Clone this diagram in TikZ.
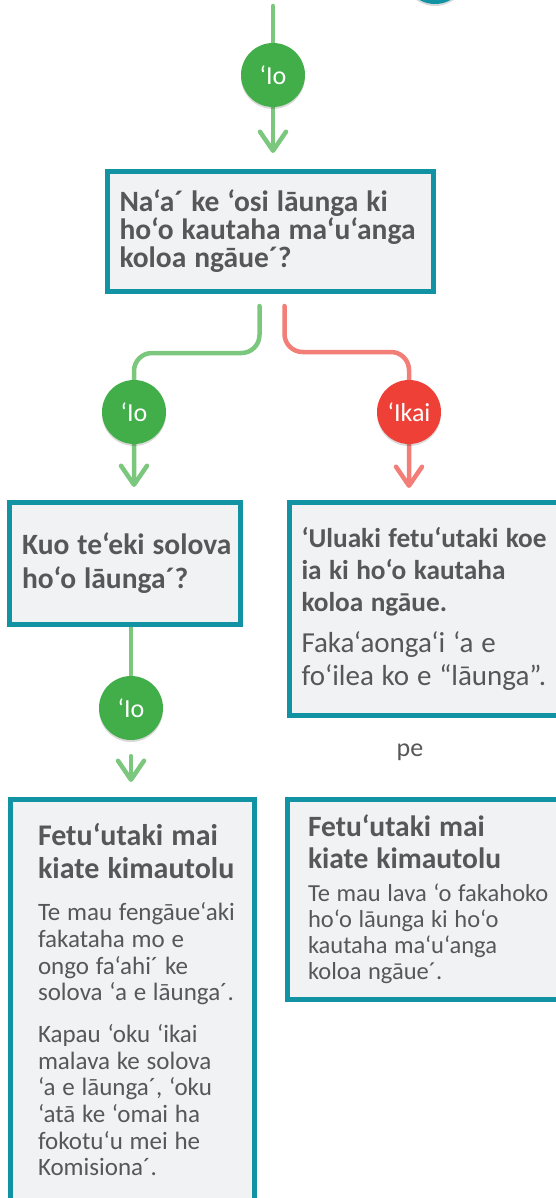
\documentclass[tikz,border=0pt]{standalone}
\usepackage{fontspec}
\setmainfont{Carlito}
\usetikzlibrary{positioning, arrows.meta, shadows, backgrounds}
\definecolor{tealline}{HTML}{1193A3}
\definecolor{panelgrey}{HTML}{F1F2F4}
\definecolor{ink}{HTML}{575757}
\definecolor{yesfill}{HTML}{42AE4A}
\definecolor{yesline}{HTML}{7CC77E}
\definecolor{nofill}{HTML}{EE4036}
\definecolor{noline}{HTML}{F37D77}
\setlength\parindent{0pt}
\setlength\parskip{0pt}
\newcommand\wordgap{\spaceskip=.27em\relax}
\newcommand\headtext{\bfseries\fontsize{30}{33}\selectfont\wordgap}

\begin{document}
\begin{tikzpicture}[x=1pt, y=-1pt,
    panel/.style={draw=tealline, line width=5pt, fill=panelgrey, text=ink, anchor=north west,
      align=left, inner ysep=0pt,
      drop shadow={shadow xshift=-1pt, shadow yshift=-2pt, opacity=0.18, fill=black}},
    answer/.style={circle, minimum size=64pt, inner sep=0pt, text=white,
      font=\fontsize{26}{26}\selectfont,
      drop shadow={shadow xshift=0pt, shadow yshift=-2pt, opacity=0.15, fill=black}},
    yes/.style={answer, fill=yesfill},
    no/.style={answer, fill=nofill},
    flow/.style={line width=4.5pt, line cap=round, rounded corners=18pt,
      -{Straight Barb[length=19pt, width=26pt, round]}}]
  \useasboundingbox (0,0) rectangle (555,1198);

  \node[answer, fill=tealline] (prev) at (435,-28) {};
  \coordinate (top) at (273,6);

  \node[panel, minimum width=326pt, minimum height=120pt, text width=302pt, inner xsep=12pt] (ask) at (105,169)
    {\bfseries\fontsize{29.5}{28}\selectfont\wordgap Na‘a´ ke ‘osi lāunga ki\\ho‘o kautaha ma‘u‘anga\\koloa ngāue´?\par};
  \node[panel, minimum width=231pt, minimum height=122pt, text width=230pt, inner xsep=0.5pt] (solved) at (7,500)
    {\leftskip=12pt\bfseries\fontsize{29.5}{34}\selectfont\wordgap Kuo te‘eki solova\\ho‘o lāunga´?\par};
  \node[panel, minimum width=320pt, minimum height=213pt, text width=296pt, inner xsep=12pt] (contact) at (287,500)
    {{\bfseries\fontsize{27.3}{32}\selectfont\wordgap ‘Uluaki fetu‘utaki koe\\ia ki ho‘o kautaha\\koloa ngāue.\par}
     \vspace{8pt}
     {\fontsize{29}{33}\selectfont\wordgap Faka‘aonga‘i ‘a e\\fo‘ilea ko e “lāunga”.\par}};
  \node[text=ink, font=\fontsize{26}{26}\selectfont] (pe) at (410,752) {pe};
  \node[panel, minimum width=244pt, minimum height=401pt, text width=215pt, inner xsep=14.5pt] (ringus) at (8,797)
    {\leftskip=13pt
     {\headtext Fetu‘utaki mai\\kiate kimautolu\par}
     \vspace{15pt}
     {\fontsize{25}{26.7}\selectfont\wordgap Te mau fengāue‘aki\\fakataha mo e\\ongo fa‘ahi´ ke\\solova ‘a e lāunga´.\par
     \vspace{15pt}
     Kapau ‘oku ‘ikai\\malava ke solova\\‘a e lāunga´, ‘oku\\‘atā ke ‘omai ha\\fokotu‘u mei he\\Komisiona´.\par}};
  \node[panel, minimum width=320pt, minimum height=200pt, text width=279pt, inner xsep=20.5pt] (ringbus) at (285,797)
    {{\bfseries\fontsize{29.5}{32}\selectfont\wordgap Fetu‘utaki mai\\kiate kimautolu\par}
     \vspace{7pt}
     {\fontsize{24.5}{26}\selectfont\wordgap Te mau lava ‘o fakahoko\\ho‘o lāunga ki ho‘o\\kautaha ma‘u‘anga\\koloa ngāue´.\par}};

  \node[yes] (io1) at (273,75) {‘Io};
  \node[yes] (io2) at (134,412) {‘Io};
  \node[no] (ikai) at (409,412) {‘Ikai};
  \node[yes] (io3) at (131,708) {‘Io};

  \begin{scope}[on background layer]
    \draw[flow, yesline, shorten >=16pt] (top) -- (io1) -- (io1 |- ask.north);
    \draw[flow, yesline, shorten >=13pt] ([xshift=-11pt, yshift=-12pt]ask.south) -- ++(0,47) -| (io2) -- (io2 |- solved.north);
    \draw[flow, noline, shorten >=12pt] ([xshift=14pt, yshift=-12pt]ask.south) -- ++(0,46) -| (ikai) -- (ikai |- contact.north);
    \draw[flow, yesline, shorten >=15pt, shorten <=16pt] (solved.south -| io3) -- (io3) -- (io3 |- ringus.north);
  \end{scope}
\end{tikzpicture}
\end{document}
